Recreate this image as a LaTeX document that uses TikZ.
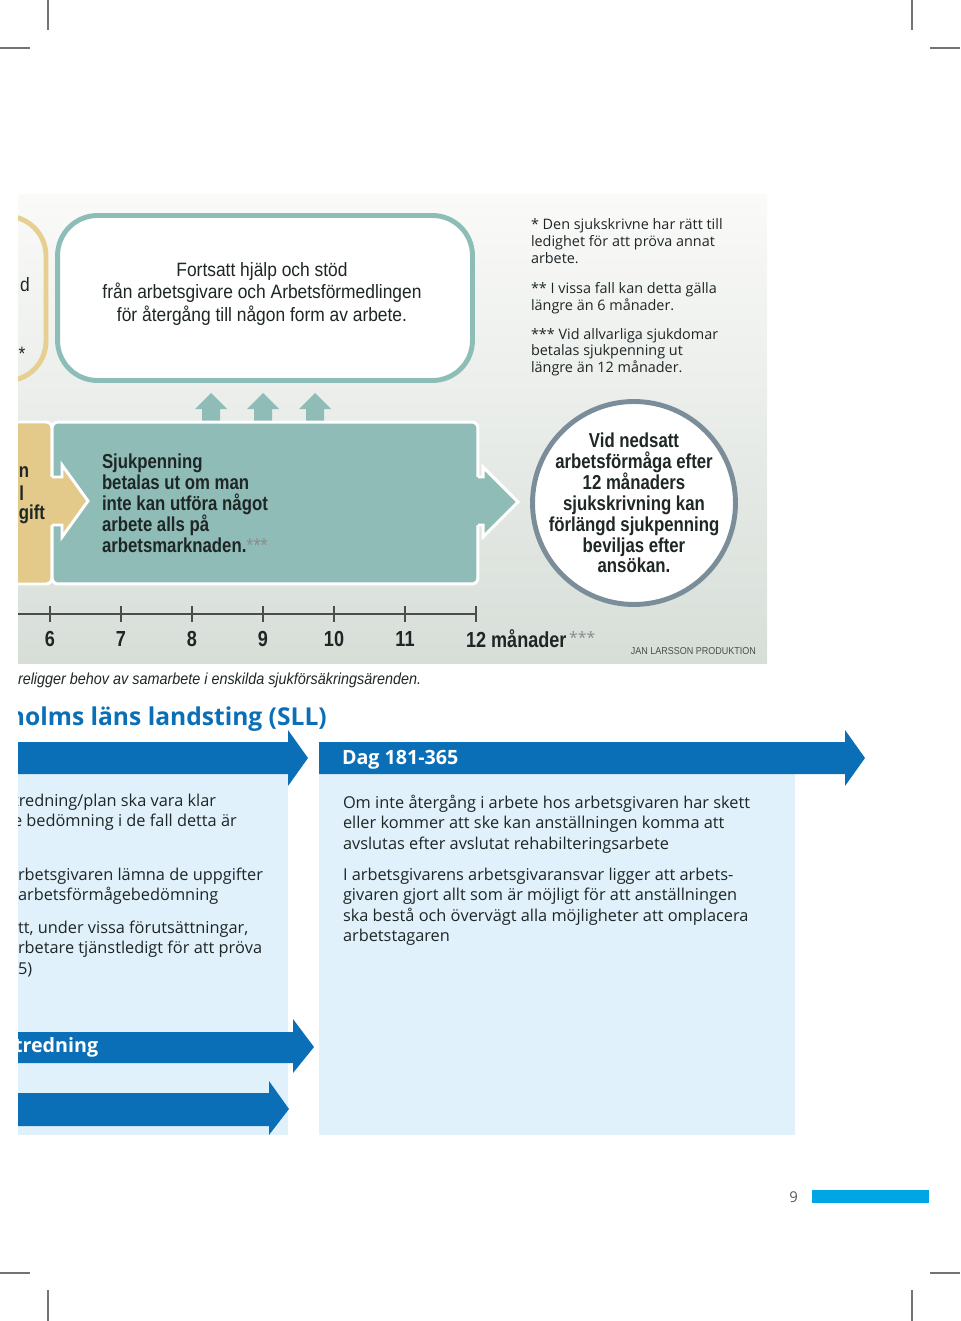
\documentclass[tikz,border=0pt]{standalone}
\usepackage{fontspec}
\setmainfont{Open Sans}
\newfontfamily\narrowlight[FakeStretch=0.9]{Liberation Sans}
\newfontfamily\narrowbold[FakeStretch=0.83]{Liberation Sans}
\usepackage{tikz}
\usetikzlibrary{positioning}

\definecolor{tealfill}{HTML}{8FBCB6}
\definecolor{tealline}{HTML}{8CBDB6}
\definecolor{sandfill}{HTML}{E3C98A}
\definecolor{sandline}{HTML}{E6CF8F}
\definecolor{ringgray}{HTML}{7C8D9A}
\definecolor{sllblue}{HTML}{0A6FB7}
\definecolor{paleblue}{HTML}{E1F1FB}
\definecolor{barblue}{HTML}{00A6E4}
\definecolor{inkdark}{HTML}{1E2626}
\definecolor{paneltop}{HTML}{FAFAF9}
\definecolor{panelbot}{HTML}{D7DED8}

\def\boxtop{422}
\def\boxbottom{584}

\begin{document}
\begin{tikzpicture}[x=0.02cm,y=-0.02cm]
        \tikzstyle{every node}=[inner sep=0pt,outer sep=0pt]
        \tikzstyle{crop}=[draw=black!55,line width=0.6pt]
        \tikzstyle{helpbox}=[rectangle,draw=tealline,line width=2.8pt,fill=white,rounded corners=0.8cm,minimum width=8.3cm,minimum height=3.3cm]
        \tikzstyle{sickbox}=[rectangle,draw=white,line width=1.7pt,fill=tealfill,rounded corners=0.12cm,minimum width=8.52cm,minimum height=3.24cm]
        \tikzstyle{ring}=[circle,draw=ringgray,line width=2.8pt,fill=white,minimum size=4.06cm]
        \tikzstyle{lighttext}=[font=\narrowlight\fontsize{11}{13}\selectfont,text=inkdark,align=center]
        \tikzstyle{boldtext}=[font=\narrowbold\bfseries\fontsize{11.5}{11.9}\selectfont,text=inkdark]
        \tikzstyle{note}=[font=\fontsize{8.2}{9.6}\selectfont,text=inkdark,align=left,anchor=north west]
        \tikzstyle{body}=[font=\fontsize{9.3}{11.6}\selectfont,text=inkdark,align=left,anchor=north west]
        \tikzstyle{tick label}=[font=\narrowbold\bfseries\fontsize{12.4}{12.4}\selectfont,text=inkdark]
        \tikzstyle{band label}=[font=\bfseries\fontsize{11.2}{11.2}\selectfont,text=white,anchor=west]

        \useasboundingbox (0,0) rectangle (960,1321);

        % Crop marks in the corners
        \draw[crop] (48,0) -- (48,30) (912,0) -- (912,30) (0,48) -- (30,48) (930,48) -- (960,48);
        \draw[crop] (48,1290) -- (48,1321) (912,1290) -- (912,1321) (0,1273) -- (30,1273) (930,1273) -- (960,1273);

        \begin{scope}
        \clip (18,0) rectangle (960,1321);

        % Shaded panel behind the chart
        \shade[top color=paneltop,bottom color=panelbot] (18,195) rectangle (767,663);

        % Upper row: help box and the notes
        \draw[sandline,line width=2.8pt,rounded corners=0.8cm] (-200,216) rectangle (46,381);
        \node[lighttext] (prevtext-1) at (25,285) {d};
        \node[lighttext] (prevtext-2) at (22,354) {*};
        \node[helpbox] (help) at (265,298) {};
        \node[lighttext] (helptext) at (262,294) {Fortsatt hjälp och stöd\\från arbetsgivare och Arbetsförmedlingen\\för återgång till någon form av arbete.};

        \node[note] (fn1) at (531,219) {* Den sjukskrivne har rätt till\\ledighet för att pröva annat\\arbete.};
        \node[note,below=10.5pt of fn1.south west,anchor=north west] (fn2) {** I vissa fall kan detta gälla\\längre än 6 månader.};
        \node[note,below=8.2pt of fn2.south west,anchor=north west] (fn3) {*** Vid allvarliga sjukdomar\\betalas sjukpenning ut\\längre än 12 månader.};

        % Arrows up from the sick pay box
        \foreach \name / \x in {1/211,2/263,3/315}
            \fill[tealfill] (\x-9,\boxtop+2) -- (\x-9,409) -- (\x-16,409) -- (\x,393) -- (\x+16,409) -- (\x+9,409) -- (\x+9,\boxtop+2) -- cycle;

        % Middle row: the sick pay box
        \filldraw[fill=sandfill,draw=white,line width=1.7pt,rounded corners=0.12cm] (-100,\boxtop) rectangle (52,\boxbottom);
        \node[boldtext,anchor=east] (prevbold-1) at (29,472) {n};
        \node[boldtext,anchor=east] (prevbold-2) at (24,493) {ll};
        \node[boldtext,anchor=east] (prevbold-3) at (45,514) {gift};
        \node[sickbox] (sick) at (265,503) {};
        \fill[sandfill] (45,477) -- (62,477) -- (62,465) -- (88,501) -- (62,537) -- (62,525) -- (45,525) -- cycle;
        \draw[white,line width=1.7pt] (52,477) -- (62,477) -- (62,465) -- (88,501) -- (62,537) -- (62,525) -- (52,525);
        \fill[tealfill] (470,477) -- (483,477) -- (483,467) -- (518,502) -- (483,537) -- (483,525) -- (470,525) -- cycle;
        \draw[white,line width=1.7pt] (478,477) -- (483,477) -- (483,467) -- (518,502) -- (483,537) -- (483,525) -- (478,525);
        \node[boldtext,align=left,anchor=west] (sicktext) at (102,503) {Sjukpenning\\betalas ut om man\\inte kan utföra något\\arbete alls på\\arbetsmarknaden.{\narrowlight\mdseries\color{black!45}***}};

        % The circle for extended sick pay
        \node[ring] (extended) at (634,503) {};
        \node[boldtext,align=center] (extendedtext) at (extended.center) {Vid nedsatt\\arbetsförmåga efter\\12 månaders\\sjukskrivning kan\\förlängd sjukpenning\\beviljas efter\\ansökan.};

        % Time line in months
        \draw[draw=black!70,line width=1.2pt] (18,614) -- (477,614);
        \foreach \name / \x in {6/50,7/121,8/192,9/263,10/334,11/405}
        {
            \draw[draw=black!70,line width=0.8pt] (\x,606) -- (\x,622);
            \node[tick label] (m-\name) at (\x,639) {\name};
        }
        \draw[draw=black!70,line width=0.8pt] (476,606) -- (476,622);
        \node[tick label,anchor=west] (m-12) at (466,639) {12 månader};
        \node[font=\fontsize{9}{9}\selectfont,text=black!45,anchor=north west] (m-stars) at ([xshift=1.5pt,yshift=-1pt]m-12.north east) {***};
        \node[font=\narrowlight\fontsize{5.7}{5.7}\selectfont,text=black!70,anchor=east] (credit) at (756,651) {JAN LARSSON PRODUKTION};

        % Lower half of the page
        \node[font=\narrowlight\itshape\fontsize{9.1}{9.1}\selectfont,text=inkdark,anchor=west] (coop) at (18,680) {religger behov av samarbete i enskilda sjukförsäkringsärenden.};
        \node[font=\bfseries\fontsize{14}{14}\selectfont,text=sllblue,anchor=west] (sll) at (9,719) {holms läns landsting (SLL)};

        \fill[paleblue] (-50,774) rectangle (288,1135);
        \fill[paleblue] (319,774) rectangle (795,1135);
        \fill[sllblue] (-50,742) -- (288,742) -- (288,730) -- (308,758) -- (288,786) -- (288,774) -- (-50,774) -- cycle;
        \fill[sllblue] (319,742) -- (845,742) -- (845,730) -- (865,758) -- (845,786) -- (845,774) -- (319,774) -- cycle;
        \node[band label] (dag) at (342,760) {Dag 181-365};

        \node[body] (left-1) at (13,794) {tredning/plan ska vara klar\\e bedömning i de fall detta är};
        \node[body] (left-2) at (18,868) {rbetsgivaren lämna de uppgifter\\ arbetsförmågebedömning};
        \node[body] (left-3) at (18,921) {tt, under vissa förutsättningar,\\rbetare tjänstledigt för att pröva\\5)};

        \node[body] (right-1) at (343,795) {Om inte återgång i arbete hos arbetsgivaren har skett\\eller kommer att ske kan anställningen komma att\\avslutas efter avslutat rehabilteringsarbete};
        \node[body] (right-2) at (343,868) {I arbetsgivarens arbetsgivaransvar ligger att arbets-\\givaren gjort allt som är möjligt för att anställningen\\ska bestå och övervägt alla möjligheter att omplacera\\arbetstagaren};

        \fill[sllblue] (-50,1032) -- (293,1032) -- (293,1019) -- (314,1047) -- (293,1073) -- (293,1063) -- (-50,1063) -- cycle;
        \node[band label] (utr) at (14,1047) {tredning};
        \fill[sllblue] (-50,1093) -- (269,1093) -- (269,1081) -- (289,1109) -- (269,1135) -- (269,1126) -- (-50,1126) -- cycle;
        \end{scope}

        % Page number
        \node[font=\fontsize{8.5}{8.5}\selectfont,text=black!65,anchor=east] (page) at (798,1197) {9};
        \fill[barblue] (812,1190) rectangle (929,1203);
\end{tikzpicture}
\end{document}
